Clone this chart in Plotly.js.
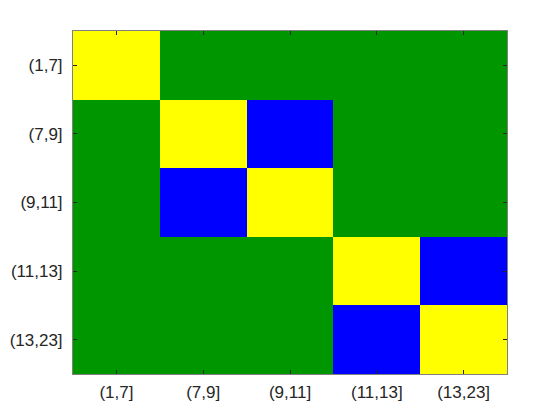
<!DOCTYPE html>
<html>
<head>
<meta charset="utf-8">
<script src="https://cdn.plot.ly/plotly-3.0.1.min.js"></script>
<style>html,body{margin:0;padding:0;background:#fff;}#chart{width:560px;height:420px;}</style>
</head>
<body>
<div id="chart"></div>
<script>
var categories = ["(1,7]", "(7,9]", "(9,11]", "(11,13]", "(13,23]"];
// 1 = yellow (same), 0 = green, -1 = blue
var row1 = [1, 0, 0, 0, 0];
var row2 = [0, 1, -1, 0, 0];
var row3 = [0, -1, 1, 0, 0];
var row4 = [0, 0, 0, 1, -1];
var row5 = [0, 0, 0, -1, 1];
var zValues = [row1, row2, row3, row4, row5];

var trace = {
  type: 'heatmap',
  x: categories,
  y: categories,
  z: zValues,
  zmin: -1,
  zmax: 1,
  colorscale: [[0, '#0000ff'], [0.3333, '#0000ff'], [0.3333, '#009600'], [0.6667, '#009600'], [0.6667, '#ffff00'], [1, '#ffff00']],
  showscale: false,
  hoverinfo: 'skip'
};

var axisCommon = {
  type: 'category',
  ticks: 'inside',
  ticklen: 4,
  tickwidth: 1,
  tickcolor: '#262626',
  showline: true,
  linecolor: '#808080',
  linewidth: 1,
  mirror: 'ticks',
  showgrid: false,
  zeroline: false,
  tickfont: {family: 'Liberation Sans, Arial, sans-serif', size: 17, color: '#262626'}
};

var layout = {
  width: 560,
  height: 420,
  margin: {l: 73, r: 53, t: 31, b: 46},
  paper_bgcolor: '#ffffff',
  plot_bgcolor: '#ffffff',
  xaxis: Object.assign({}, axisCommon, {ticklabelstandoff: 3}),
  yaxis: Object.assign({}, axisCommon, {autorange: 'reversed', ticklabelstandoff: 6}),
  showlegend: false
};

Plotly.newPlot('chart', [trace], layout, {staticPlot: true, displayModeBar: false});
</script>
</body>
</html>
